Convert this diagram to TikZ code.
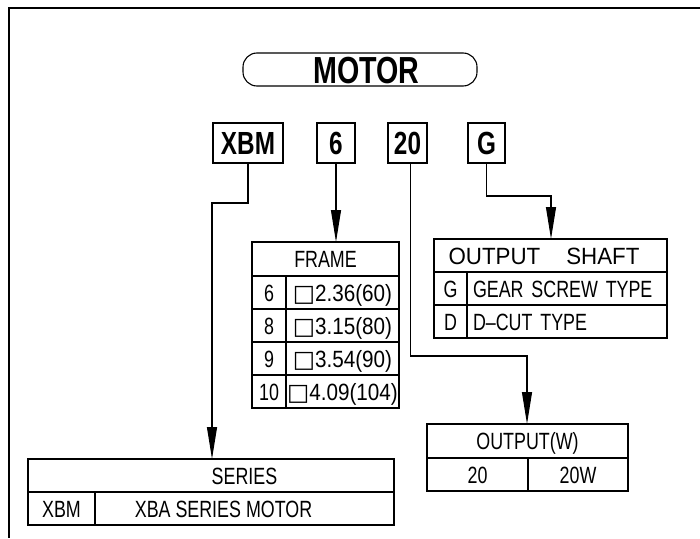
\documentclass[tikz,border=0pt]{standalone}
\usepackage{fontspec}
\setmainfont{Liberation Sans}
\newfontfamily\cadfont[FakeStretch=0.76]{Liberation Sans}
\newfontfamily\titlefont[FakeStretch=0.76]{Liberation Sans}
\newfontfamily\valfont[FakeStretch=0.95]{Liberation Sans}
\newfontfamily\sizefont[FakeStretch=0.88]{Liberation Sans}
\newfontfamily\symfont{DejaVu Sans}
\usetikzlibrary{positioning,arrows.meta}

\begin{document}
\begin{tikzpicture}[
				x=1pt, y=-1pt,
				titlebox/.style={rectangle, draw, line width=1.1pt, rounded corners=14pt, inner sep=0pt, font=\titlefont\bfseries\fontsize{37.7}{38}\selectfont, text height=27pt, text depth=0pt},
				codebox/.style={rectangle, draw, line width=1.1pt, minimum height=40pt, inner sep=0pt, font=\cadfont\bfseries\fontsize{32}{32}\selectfont, text height=23pt, text depth=0pt},
				cell/.style={rectangle, draw, line width=1.1pt, outer sep=0pt, inner xsep=6pt, inner ysep=0pt, minimum height=33pt, font=\cadfont\fontsize{23.5}{25}\selectfont, text height=17pt, text depth=0pt},
				widetext/.style={font=\valfont\fontsize{23.5}{25}\selectfont},
				sizetext/.style={font=\sizefont\fontsize{23.5}{25}\selectfont},
				lcell/.style={cell, align=left, text width=188pt},
				link/.style={line width=1.1pt},
				arr/.style={link, -{Triangle[length=32pt,width=10pt]}},
				]
				\useasboundingbox (0,0) rectangle (700,538);
				%Frame
				\draw[line width=2pt] (700,8) -- (9,8) -- (9,538);
				
				%Nodes
				\node[titlebox, minimum width=234pt, minimum height=33pt](motor) at (360,69.5){\hspace*{13pt}MOTOR};
				\node[codebox, minimum width=70pt](codexbm) at (248,143){XBM};
				\node[codebox, minimum width=38pt](code6) at (336,143){6};
				\node[codebox, minimum width=39pt](code20) at (407.5,143){20};
				\node[codebox, minimum width=37pt](codeg) at (486.5,143){G};
				
				%Frame table
				\node[cell, minimum width=147pt, minimum height=34pt](frmhead) at (325.5,259){FRAME};
				\foreach \num/\size [count=\i] in {6/2.36(60), 8/3.15(80), 9/3.54(90), 10/4.09(104)}{
					\node[cell, minimum width=34pt, anchor=north west](frmnum\i) at ({252},{243+33*\i}){\num};
					\node[cell, sizetext, inner xsep=1pt, minimum width=113pt, anchor=north west](frmsize\i) at (frmnum\i.north east){{\symfont □}\size};
				}
				
				%Output shaft table
				\node[cell, widetext, minimum width=233pt](shfthead) at (550.5,255.5){OUTPUT\hspace{26pt}SHAFT\hspace*{13pt}};
				\foreach \key/\kind [count=\i] in {G/GEAR SCREW TYPE, D/D–CUT TYPE}{
					\node[cell, minimum width=33pt, anchor=north west](shftkey\i) at ({434},{239+33*\i}){\key};
					\node[lcell, anchor=north west](shftkind\i) at (shftkey\i.north east){\kind};
				}
				
				%Output table
				\node[cell, minimum width=201pt, minimum height=34pt](outhead) at (527.5,441){OUTPUT(W)};
				\node[cell, minimum width=101pt, anchor=north west](outkey) at (outhead.south west){20};
				\node[cell, minimum width=100pt, anchor=north west](outval) at (outkey.north east){20W};
				
				%Series table
				\node[cell, minimum width=366pt](serhead) at (211,475.5){\hspace*{67pt}SERIES};
				\node[cell, minimum width=67pt, anchor=north west](serkey) at (serhead.south west){XBM};
				\node[cell, minimum width=299pt, anchor=north west](serval) at (serkey.north east){XBA SERIES MOTOR\hspace*{42pt}};
				
				%Lines
				\coordinate (xbmbend) at (212,203);
				\coordinate (bend20) at (527,356);
				\coordinate (bendg) at (551,196);
				\draw[arr] (codexbm.south) |- (xbmbend) -- (xbmbend |- serhead.north);
				\draw[arr] (code6.south) -- (code6.south |- frmhead.north);
				\draw[arr] ([xshift=3pt]code20.south) |- (bend20) -- (bend20 |- outhead.north);
				\draw[arr] (codeg.south) |- (bendg) -- (bendg |- shfthead.north);
				
			\end{tikzpicture}
\end{document}
